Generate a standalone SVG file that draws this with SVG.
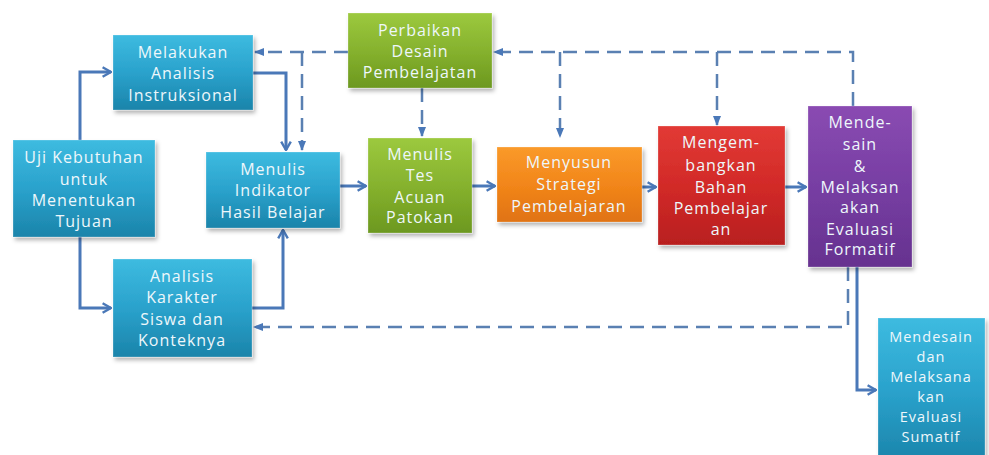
<svg xmlns="http://www.w3.org/2000/svg" width="989" height="455" viewBox="0 0 989 455">
<defs>
<linearGradient id="gBlue" x1="0" y1="0" x2="0" y2="1"><stop offset="0" stop-color="#3dbbe0"/><stop offset="0.5" stop-color="#2aa2cc"/><stop offset="1" stop-color="#1b84aa"/></linearGradient>
<linearGradient id="gGreen" x1="0" y1="0" x2="0" y2="1"><stop offset="0" stop-color="#9cc93e"/><stop offset="0.5" stop-color="#86b22e"/><stop offset="1" stop-color="#6c981f"/></linearGradient>
<linearGradient id="gOrange" x1="0" y1="0" x2="0" y2="1"><stop offset="0" stop-color="#fa9a2a"/><stop offset="0.5" stop-color="#f2861a"/><stop offset="1" stop-color="#e07312"/></linearGradient>
<linearGradient id="gRed" x1="0" y1="0" x2="0" y2="1"><stop offset="0" stop-color="#e23a35"/><stop offset="0.5" stop-color="#d22a28"/><stop offset="1" stop-color="#b81f1f"/></linearGradient>
<linearGradient id="gPurple" x1="0" y1="0" x2="0" y2="1"><stop offset="0" stop-color="#8a4bb2"/><stop offset="0.5" stop-color="#773ea3"/><stop offset="1" stop-color="#66328f"/></linearGradient>
<filter id="sh" x="-10%" y="-10%" width="125%" height="125%"><feDropShadow dx="2" dy="3" stdDeviation="2" flood-color="#000" flood-opacity="0.3"/></filter>
<marker id="aS" viewBox="0 0 10 10" refX="9" refY="5" markerWidth="4" markerHeight="4" orient="auto" markerUnits="strokeWidth"><path d="M2,1 L9,5 L2,9" fill="none" stroke="#4a78b8" stroke-width="2"/></marker>
<marker id="aD" viewBox="0 0 10 10" refX="9" refY="5" markerWidth="4" markerHeight="4" orient="auto" markerUnits="strokeWidth"><path d="M0,1 L10,5 L0,9 Z" fill="#4a78b8"/></marker>
</defs>
<style>
.box{filter:url(#sh);stroke:rgba(255,255,255,0.25);stroke-width:1}
.t{font-family:"Open Sans","DejaVu Sans",sans-serif;font-size:16px;fill:#eef7fb;text-anchor:middle;letter-spacing:1px}
.sm{font-size:14.5px}
.s{fill:none;stroke:#4a78b8;stroke-width:3;marker-end:url(#aS)}
.d{fill:none;stroke:#5a80b2;stroke-width:2.5;stroke-dasharray:14 8}
.da{fill:none;stroke:#5a80b2;stroke-width:2.5;stroke-dasharray:14 8;marker-end:url(#aD)}
</style>
<rect width="989" height="455" fill="#ffffff"/>
<g id="connectors">
<path class="s" d="M80,140 V72 H111"/>
<path class="s" d="M80,237 V308 H111"/>
<path class="s" d="M253,73 H286 V150"/>
<path class="s" d="M252,308 H283 V230"/>
<path class="s" d="M340,186 H366"/>
<path class="s" d="M472,186 H495"/>
<path class="s" d="M642,187 H656"/>
<path class="s" d="M785,187 H806"/>
<path class="s" d="M857,267 V390 H876"/>
<path class="da" d="M348,52 H255"/>
<path class="da" d="M302,52 V150"/>
<path class="da" d="M422,88 V136"/>
<path class="da" d="M853,106 V52 H494"/>
<path class="da" d="M560,52 V137"/>
<path class="da" d="M717,52 V125"/>
<path class="da" d="M848,267 V327 H254"/>
</g>
<g id="n-uji"><rect class="box" x="13" y="140" width="142" height="97" fill="url(#gBlue)"/>
<text class="t" x="84" y="163" letter-spacing="0">Uji Kebutuhan</text><text class="t" x="84" y="185">untuk</text><text class="t" x="84" y="206">Menentukan</text><text class="t" x="84" y="227">Tujuan</text></g>
<g id="n-analisis-instruksional"><rect class="box" x="113" y="35" width="140" height="75" fill="url(#gBlue)"/>
<text class="t" x="183" y="58">Melakukan</text><text class="t" x="183" y="79">Analisis</text><text class="t" x="183" y="101">Instruksional</text></g>
<g id="n-indikator"><rect class="box" x="206" y="152" width="134" height="76" fill="url(#gBlue)"/>
<text class="t" x="273" y="175">Menulis</text><text class="t" x="273" y="196">Indikator</text><text class="t" x="273" y="218" letter-spacing="0.5">Hasil Belajar</text></g>
<g id="n-karakter"><rect class="box" x="113" y="259" width="139" height="98" fill="url(#gBlue)"/>
<text class="t" x="182" y="282">Analisis</text><text class="t" x="182" y="303">Karakter</text><text class="t" x="182" y="325">Siswa dan</text><text class="t" x="182" y="346">Konteknya</text></g>
<g id="n-perbaikan"><rect class="box" x="348" y="13" width="144" height="75" fill="url(#gGreen)"/>
<text class="t" x="420" y="36">Perbaikan</text><text class="t" x="420" y="57">Desain</text><text class="t" x="420" y="78">Pembelajatan</text></g>
<g id="n-tes"><rect class="box" x="368" y="138" width="104" height="95" fill="url(#gGreen)"/>
<text class="t" x="420" y="160">Menulis</text><text class="t" x="420" y="181">Tes</text><text class="t" x="420" y="203">Acuan</text><text class="t" x="420" y="223">Patokan</text></g>
<g id="n-strategi"><rect class="box" x="497" y="147" width="145" height="75" fill="url(#gOrange)"/>
<text class="t" x="569" y="168">Menyusun</text><text class="t" x="569" y="190">Strategi</text><text class="t" x="569" y="212">Pembelajaran</text></g>
<g id="n-bahan"><rect class="box" x="658" y="126" width="127" height="119" fill="url(#gRed)"/>
<text class="t" x="721" y="148">Mengem-</text><text class="t" x="721" y="171">bangkan</text><text class="t" x="721" y="193">Bahan</text><text class="t" x="721" y="214">Pembelajar</text><text class="t" x="721" y="235">an</text></g>
<g id="n-formatif"><rect class="box" x="808" y="106" width="104" height="161" fill="url(#gPurple)"/>
<text class="t" x="860" y="128">Mende-</text><text class="t" x="860" y="150">sain</text><text class="t" x="860" y="172">&amp;</text><text class="t" x="860" y="193" letter-spacing="0.5">Melaksan</text><text class="t" x="860" y="213">akan</text><text class="t" x="860" y="235">Evaluasi</text><text class="t" x="860" y="255">Formatif</text></g>
<g id="n-sumatif"><rect class="box" x="878" y="318" width="107" height="145" fill="url(#gBlue)"/>
<text class="t sm" x="931" y="342" letter-spacing="0.5">Mendesain</text><text class="t sm" x="931" y="362">dan</text><text class="t sm" x="931" y="382" letter-spacing="0.5">Melaksana</text><text class="t sm" x="931" y="402">kan</text><text class="t sm" x="931" y="422">Evaluasi</text><text class="t sm" x="931" y="442">Sumatif</text></g>
</svg>
